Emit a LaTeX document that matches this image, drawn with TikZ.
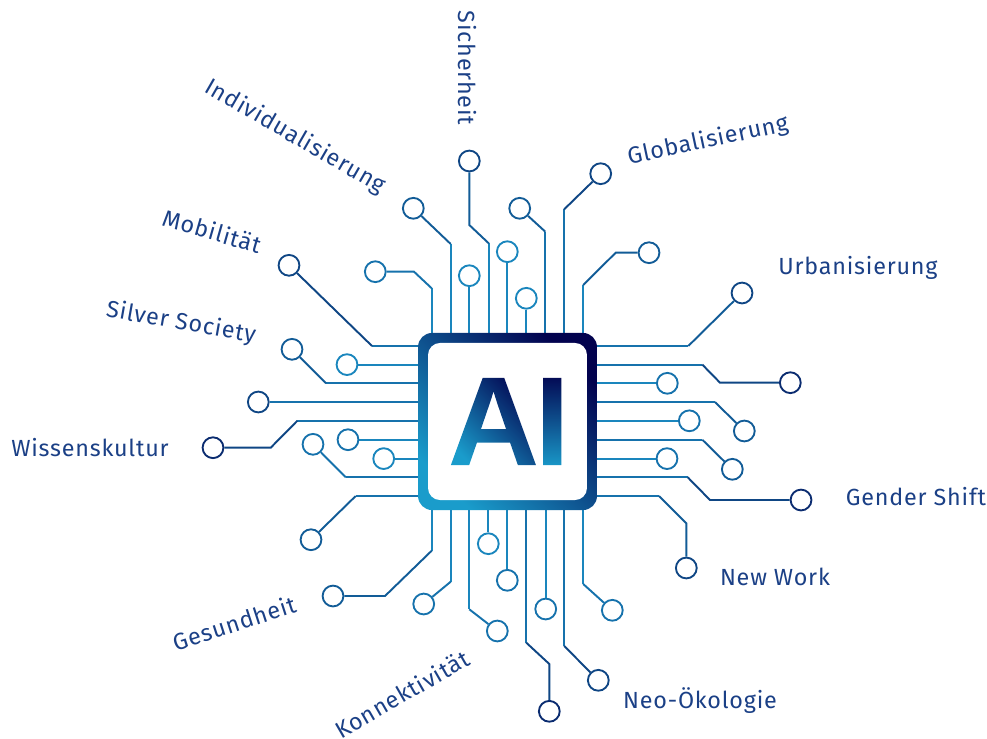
\documentclass[tikz,border=0pt]{standalone}
\usepackage{fontspec}
\setmainfont[LetterSpace=3.4]{Fira Sans}
\newfontfamily\logofont{Liberation Sans}
\usepackage{xcolor}
\usepackage{tikz}
\definecolor{tonea}{HTML}{1A86BD}
\definecolor{toneb}{HTML}{1672AC}
\definecolor{tonec}{HTML}{125C97}
\definecolor{toned}{HTML}{0F4684}
\definecolor{tonee}{HTML}{0B2C70}
\definecolor{chiplight}{HTML}{1A9CCB}
\definecolor{chipdark}{HTML}{02024E}
\definecolor{labelblue}{HTML}{1B4086}
\tikzset{
  pad/.style={circle, draw=#1, line width=1.4pt, minimum size=15.6pt, inner sep=0pt},
  wire/.style={draw=#1, line width=1.45pt},
  trend/.style={text=labelblue, font=\fontsize{17.5}{20}\selectfont, inner sep=0pt}
}

\begin{document}
\begin{tikzpicture}[x=0.75pt, y=-0.75pt]
  \useasboundingbox (0,0) rectangle (987,738);

  % pins on the chip
  \coordinate (top1) at (431.7,340);
  \coordinate (top2) at (450.7,340);
  \coordinate (top3) at (469.3,340);
  \coordinate (top4) at (488.7,340);
  \coordinate (top5) at (507.3,340);
  \coordinate (top6) at (526.3,340);
  \coordinate (top7) at (545.3,340);
  \coordinate (top8) at (564.2,340);
  \coordinate (top9) at (583.2,340);
  \coordinate (bot1) at (431.7,505);
  \coordinate (bot2) at (450.7,505);
  \coordinate (bot3) at (469.3,505);
  \coordinate (bot4) at (488.3,505);
  \coordinate (bot5) at (507.3,505);
  \coordinate (bot6) at (526.3,505);
  \coordinate (bot7) at (545.7,505);
  \coordinate (bot8) at (564.2,505);
  \coordinate (bot9) at (583.2,505);
  \coordinate (lef1) at (425,346);
  \coordinate (lef2) at (425,364.6);
  \coordinate (lef3) at (425,383.3);
  \coordinate (lef4) at (425,402);
  \coordinate (lef5) at (425,420.8);
  \coordinate (lef6) at (425,439.7);
  \coordinate (lef7) at (425,458.6);
  \coordinate (lef8) at (425,477.3);
  \coordinate (lef9) at (425,496);
  \coordinate (rig1) at (590,346);
  \coordinate (rig2) at (590,364.6);
  \coordinate (rig3) at (590,383.3);
  \coordinate (rig4) at (590,402);
  \coordinate (rig5) at (590,420.8);
  \coordinate (rig6) at (590,439.7);
  \coordinate (rig7) at (590,458.6);
  \coordinate (rig8) at (590,477.3);
  \coordinate (rig9) at (590,496);

  % pads
  \node[pad=toneb] (padtop1) at (375.3,271.7) {};
  \node[pad=tonec] (padtop2) at (413.3,208.3) {};
  \node[pad=tonea] (padtop3) at (469.3,275.7) {};
  \node[pad=toned] (padtop4) at (469.3,161) {};
  \node[pad=tonea] (padtop5) at (507.3,251.7) {};
  \node[pad=tonea] (padtop6) at (526.3,298.3) {};
  \node[pad=tonec] (padtop7) at (519.7,208.3) {};
  \node[pad=toned] (padtop8) at (600.7,173.7) {};
  \node[pad=tonec] (padtop9) at (649,252.7) {};
  \node[pad=tonec] (padbot1) at (333,596) {};
  \node[pad=toneb] (padbot2) at (423.7,604) {};
  \node[pad=toneb] (padbot3) at (497.3,631) {};
  \node[pad=tonea] (padbot4) at (488.3,543.7) {};
  \node[pad=toneb] (padbot5) at (507.3,580.3) {};
  \node[pad=tonee] (padbot6) at (549.3,711.3) {};
  \node[pad=toneb] (padbot7) at (545.7,609) {};
  \node[pad=toned] (padbot8) at (598.3,680.3) {};
  \node[pad=toneb] (padbot9) at (612.3,610.3) {};
  \node[pad=toned] (padlef1) at (289,265.3) {};
  \node[pad=tonea] (padlef2) at (347,364.6) {};
  \node[pad=tonec] (padlef3) at (292,349.3) {};
  \node[pad=toned] (padlef4) at (258.3,402) {};
  \node[pad=tonee] (padlef5) at (213,447.7) {};
  \node[pad=toneb] (padlef6) at (348,439.7) {};
  \node[pad=tonea] (padlef7) at (383.7,458.6) {};
  \node[pad=toneb] (padlef8) at (313,444.3) {};
  \node[pad=tonec] (padlef9) at (311,539.7) {};
  \node[pad=toned] (padrig1) at (742,293) {};
  \node[pad=tonee] (padrig2) at (790.3,382.7) {};
  \node[pad=toneb] (padrig3) at (667.3,383.3) {};
  \node[pad=tonec] (padrig4) at (744.3,431) {};
  \node[pad=toneb] (padrig5) at (689.3,420.8) {};
  \node[pad=tonec] (padrig6) at (732.3,469.3) {};
  \node[pad=toneb] (padrig7) at (667,458.6) {};
  \node[pad=tonee] (padrig8) at (801,500) {};
  \node[pad=toned] (padrig9) at (686.3,568) {};

  % bends
  \coordinate (bendtop1) at (431.7,288.3);
  \coordinate (bendtop2) at (450.7,244);
  \coordinate (bendtop4) at (488.7,243.3);
  \coordinate (bendtop7) at (545.3,231.7);
  \coordinate (bendtop8) at (564.2,209.3);
  \coordinate (bendtop9) at (583.2,285);
  \coordinate (bendbot1) at (431.7,550.7);
  \coordinate (bendbot2) at (450.7,581.7);
  \coordinate (bendbot3) at (469.3,609.3);
  \coordinate (bendbot6) at (526.3,642.7);
  \coordinate (bendbot8) at (564.2,646);
  \coordinate (bendbot9) at (583.2,584);
  \coordinate (bendlef1) at (372,346);
  \coordinate (bendlef3) at (326,383.3);
  \coordinate (bendlef5) at (297.3,420.8);
  \coordinate (bendlef8) at (345.7,477.3);
  \coordinate (bendlef9) at (355.7,496);
  \coordinate (bendrig1) at (688.3,346);
  \coordinate (bendrig2) at (702.3,364.6);
  \coordinate (bendrig4) at (715,402);
  \coordinate (bendrig6) at (702.3,439.7);
  \coordinate (bendrig8) at (687.7,477.3);
  \coordinate (bendrig9) at (659,496);

  % wires, top side
  \draw[wire=tonea] (top1) -- (bendtop1);
  \draw[wire=toneb] (bendtop1) -- (414,271.7) -- (padtop1);
  \draw[wire=tonea] (top2) -- (bendtop2);
  \draw[wire=tonec] (bendtop2) -- (padtop2);
  \draw[wire=tonea] (top3) -- (padtop3);
  \draw[wire=tonea] (top4) -- (bendtop4);
  \draw[wire=tonec] (bendtop4) -- (469.3,225) -- (padtop4);
  \draw[wire=tonea] (top5) -- (padtop5);
  \draw[wire=tonea] (top6) -- (padtop6);
  \draw[wire=toneb] (top7) -- (bendtop7);
  \draw[wire=tonec] (bendtop7) -- (padtop7);
  \draw[wire=toneb] (top8) -- (bendtop8);
  \draw[wire=toned] (bendtop8) -- (padtop8);
  \draw[wire=tonea] (top9) -- (bendtop9);
  \draw[wire=tonec] (bendtop9) -- (615.7,252.7) -- (padtop9);

  % wires, bottom side
  \draw[wire=tonea] (bot1) -- (bendbot1);
  \draw[wire=tonec] (bendbot1) -- (385,596) -- (padbot1);
  \draw[wire=tonea] (bot2) -- (bendbot2);
  \draw[wire=toneb] (bendbot2) -- (padbot2);
  \draw[wire=tonea] (bot3) -- (bendbot3);
  \draw[wire=toneb] (bendbot3) -- (padbot3);
  \draw[wire=tonea] (bot4) -- (padbot4);
  \draw[wire=tonea] (bot5) -- (padbot5);
  \draw[wire=toneb] (bot6) -- (bendbot6);
  \draw[wire=toned] (bendbot6) -- (549.3,664) -- (padbot6);
  \draw[wire=tonea] (bot7) -- (padbot7);
  \draw[wire=toneb] (bot8) -- (bendbot8);
  \draw[wire=toned] (bendbot8) -- (padbot8);
  \draw[wire=tonea] (bot9) -- (bendbot9);
  \draw[wire=toneb] (bendbot9) -- (padbot9);

  % wires, left side
  \draw[wire=toneb] (lef1) -- (bendlef1);
  \draw[wire=toned] (bendlef1) -- (padlef1);
  \draw[wire=tonea] (lef2) -- (padlef2);
  \draw[wire=toneb] (lef3) -- (bendlef3);
  \draw[wire=tonec] (bendlef3) -- (padlef3);
  \draw[wire=toneb] (lef4) -- (padlef4);
  \draw[wire=toneb] (lef5) -- (bendlef5);
  \draw[wire=toned] (bendlef5) -- (270.7,447.7) -- (padlef5);
  \draw[wire=tonea] (lef6) -- (padlef6);
  \draw[wire=tonea] (lef7) -- (padlef7);
  \draw[wire=toneb] (lef8) -- (bendlef8);
  \draw[wire=toneb] (bendlef8) -- (padlef8);
  \draw[wire=toneb] (lef9) -- (bendlef9);
  \draw[wire=tonec] (bendlef9) -- (padlef9);

  % wires, right side
  \draw[wire=toneb] (rig1) -- (bendrig1);
  \draw[wire=tonec] (bendrig1) -- (padrig1);
  \draw[wire=toneb] (rig2) -- (bendrig2);
  \draw[wire=toned] (bendrig2) -- (720,382.7) -- (padrig2);
  \draw[wire=tonea] (rig3) -- (padrig3);
  \draw[wire=toneb] (rig4) -- (bendrig4);
  \draw[wire=tonec] (bendrig4) -- (padrig4);
  \draw[wire=tonea] (rig5) -- (padrig5);
  \draw[wire=toneb] (rig6) -- (bendrig6);
  \draw[wire=tonec] (bendrig6) -- (padrig6);
  \draw[wire=tonea] (rig7) -- (padrig7);
  \draw[wire=toneb] (rig8) -- (bendrig8);
  \draw[wire=toned] (bendrig8) -- (710,500) -- (padrig8);
  \draw[wire=toneb] (rig9) -- (bendrig9);
  \draw[wire=tonec] (bendrig9) -- (686.3,523.3) -- (padrig9);

  % chip
  \node[rounded corners=10.5pt, minimum width=134.2pt, minimum height=132.8pt, inner sep=0pt,
    bottom color=chiplight, top color=chipdark, shading angle=-45] (chip) at (507.5,421.5) {};
  \node[rounded corners=9pt, fill=white, minimum width=119.2pt, minimum height=117.8pt, inner sep=0pt]
    (chipface) at (507.5,421.5) {};

  % AI, the letters clip the two shadings
  \node[anchor=base west, inner sep=0pt, font=\logofont\bfseries\fontsize{95}{95}\selectfont] (ai) at (447.5,465)
    {\special{pdf:code q 7 Tr}\rlap{A\kern-3.5pt I}\special{pdf:code 0 Tr}\tikz[baseline=0pt]{
      \shade[bottom color=chiplight, top color=chipdark, shading angle=-45] (-2pt,-3pt) rectangle (66pt,70pt);
      \shade[bottom color=chiplight, middle color=toned, top color=chipdark] (66pt,-3pt) rectangle (92pt,70pt);
    }\special{pdf:code Q}};

  % labels
  \node[trend, rotate=-90] (sicherheit) at (467,68) {Sicherheit};
  \node[trend, rotate=-30] (individual) at (295,137) {Individualisierung};
  \node[trend, rotate=12] (global) at (708,141) {Globalisierung};
  \node[trend] (urban) at (858,268) {Urbanisierung};
  \node[trend, rotate=-16] (mobil) at (212,231) {Mobilität};
  \node[trend, rotate=-10] (silver) at (181,323) {Silver Society};
  \node[trend] (wissen) at (90,448) {Wissenskultur};
  \node[trend] (gender) at (916,497) {Gender Shift};
  \node[trend] (newwork) at (775,577) {New Work};
  \node[trend] (neo) at (700,701) {Neo-Ökologie};
  \node[trend, rotate=30] (konnekt) at (402,694) {Konnektivität};
  \node[trend, rotate=18] (gesund) at (234,623) {Gesundheit};
\end{tikzpicture}
\end{document}
